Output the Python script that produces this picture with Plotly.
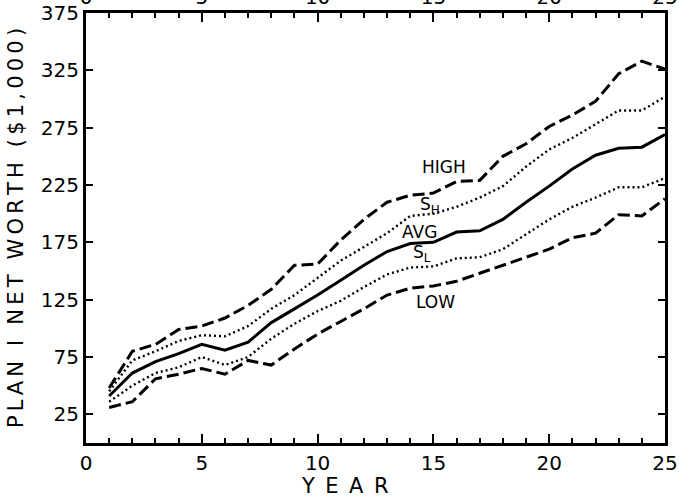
import plotly.graph_objects as go

years = list(range(1, 26))
high = [48, 80, 86, 99, 102, 109, 120, 134, 155, 156, 177, 195, 210, 216, 218, 228, 229, 250, 261, 276, 286, 298, 322, 333, 326]
s_high = [45, 72, 80, 89, 94, 93, 102, 117, 129, 144, 159, 171, 183, 198, 200, 206, 214, 224, 241, 256, 266, 278, 290, 290, 302]
avg = [41, 61, 71, 78, 86, 81, 88, 105, 117, 129, 142, 155, 167, 174, 175, 184, 185, 195, 210, 224, 239, 251, 257, 258, 269]
s_low = [36, 50, 61, 66, 75, 68, 75, 91, 104, 115, 124, 136, 147, 153, 154, 161, 162, 169, 182, 195, 206, 214, 223, 223, 231]
low = [31, 36, 56, 60, 65, 60, 72, 68, 82, 95, 106, 117, 129, 135, 137, 141, 148, 155, 162, 169, 179, 183, 199, 198, 213]

x_ticks = [0, 5, 10, 15, 20, 25]
y_ticks = [25, 75, 125, 175, 225, 275, 325, 375]

labels = [
    ("HIGH", 15.45, 241),
    ("S<sub>H</sub>", 14.85, 207),
    ("AVG", 14.4, 184),
    ("S<sub>L</sub>", 14.5, 165),
    ("LOW", 15.07, 123),
]

FONT = "DejaVu Sans"
fig = go.Figure()
series = [
    ("HIGH", high, "12px,5px", 3),
    ("SH", s_high, "2px,3px", 2.4),
    ("AVG", avg, "solid", 3),
    ("SL", s_low, "2px,3px", 2.4),
    ("LOW", low, "12px,5px", 3),
]
for name, vals, dash, w in series:
    fig.add_trace(go.Scatter(x=years, y=vals, mode="lines", name=name,
                             line=dict(color="black", width=w, dash=dash),
                             showlegend=False, hoverinfo="skip"))
# anchor trace for the top year axis (draws nothing visible)
fig.add_trace(go.Scatter(x=[years[0], years[-1]], y=[None, None], xaxis="x2",
                         mode="lines", showlegend=False, hoverinfo="skip"))

for txt, xx, yy in labels:
    fig.add_annotation(x=xx, y=yy, text=txt, showarrow=False,
                       font=dict(family=FONT, size=17, color="black"))

fig.add_annotation(xref="paper", yref="paper", x=0.447, y=0, yshift=-43,
                   text="Y\u2002E\u2002A\u2002R", showarrow=False, yanchor="middle",
                   font=dict(family=FONT, size=21, color="black"))

sp = "\u2009"
ytitle = sp.join(list("PLAN I NET WORTH ($1,000)"))
fig.update_layout(
    width=679, height=500,
    margin=dict(l=86, r=14, t=13, b=57, autoexpand=False),
    paper_bgcolor="white", plot_bgcolor="white",
    font=dict(family=FONT, color="black", size=20),
    xaxis=dict(range=[0, 25], tickvals=x_ticks, ticks="inside", ticklen=9, tickwidth=2,
               tickcolor="black", automargin=False,
               minor=dict(dtick=1, tick0=0, ticks="inside", ticklen=5, tickwidth=1.5, tickcolor="black"),
               showline=True, linewidth=3, linecolor="black", mirror="ticks",
               showgrid=False, zeroline=False),
    xaxis2=dict(range=[0, 25], tickvals=x_ticks, overlaying="x", side="top",
                automargin=False, ticklabelstandoff=4,
                ticks="", showline=False, showgrid=False, zeroline=False),
    yaxis=dict(range=[0, 375], tickvals=y_ticks, ticks="inside", ticklen=7, tickwidth=2,
               tickcolor="black", automargin=False,
               showline=True, linewidth=3, linecolor="black", mirror="ticks",
               showgrid=False, zeroline=False,
               title=dict(text=ytitle, font=dict(size=21), standoff=12)),
)
fig.write_html("out.html")
